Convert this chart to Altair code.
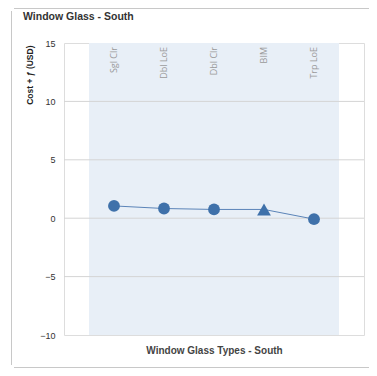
import altair as alt
import pandas as pd

categories = ["Sgl Clr", "Dbl LoE", "Dbl Clr", "BIM", "Trp LoE"]
values = [1.05, 0.83, 0.75, 0.75, -0.08]
shapes = ["circle", "circle", "circle", "triangle-up", "circle"]
grid_values = [-5, 0, 5, 10]
y_ticks = [-10, -5, 0, 5, 10, 15]
chart_title = ["Window Glass - South"]

FONT = "Liberation Sans, Arial, sans-serif"
BLUE = "#3f71aa"

df = pd.DataFrame({
    "cat": categories,
    "pos": list(range(1, len(categories) + 1)),
    "val": values,
    "shape": shapes,
})
band = pd.DataFrame({"x0": [0.5], "x1": [len(categories) + 0.5]})
grid = pd.DataFrame({"g": grid_values})
tdf = pd.DataFrame({"t": chart_title})

xscale = alt.Scale(domain=[0, len(categories) + 1], nice=False, zero=False)
yscale = alt.Scale(domain=[-10, 15], nice=False, zero=False)

edge = dict(color="#c8c8c8", strokeWidth=1, clip=False)
frame_left = alt.Chart(tdf).mark_rule(**edge).encode(
    x=alt.value(-52.5), y=alt.value(-32), y2=alt.value(322))
frame_top = alt.Chart(tdf).mark_rule(**edge).encode(
    x=alt.value(-50), x2=alt.value(330), y=alt.value(-34.5))
frame_bottom = alt.Chart(tdf).mark_rule(**edge).encode(
    x=alt.value(-50), x2=alt.value(330), y=alt.value(324.5))

title_layer = alt.Chart(tdf).mark_text(
    align="left", baseline="middle", font=FONT, fontSize=10.5, fontWeight="bold", color="#333"
).encode(x=alt.value(-41), y=alt.value(-26), text="t:N")

band_layer = alt.Chart(band).mark_rect(color="#e8eff7").encode(
    x=alt.X("x0:Q", scale=xscale,
            axis=alt.Axis(title="Window Glass Types - South", labels=False, ticks=False,
                          grid=False, domain=False, titleFont=FONT, titleFontSize=10,
                          titleFontWeight="bold", titleColor="#444", titlePadding=10,
                          zindex=1)),
    x2="x1:Q",
    y=alt.value(0), y2=alt.value(292),
)

grid_layer = alt.Chart(grid).mark_rule(color="#d4d4d4", strokeWidth=1).encode(
    y=alt.Y("g:Q", scale=yscale)
)

line = alt.Chart(df).mark_line(color="#5b84b8", strokeWidth=1).encode(
    x=alt.X("pos:Q", scale=xscale),
    y=alt.Y("val:Q", scale=yscale,
            axis=alt.Axis(values=y_ticks, title="Cost + ƒ (USD)", grid=False, ticks=False,
                          domain=False, labelFont=FONT,
                          labelFontSize=9, labelColor="#333", labelPadding=9,
                          titleFont=FONT, titleFontSize=8.5, titleFontWeight="bold",
                          titleColor="#222", titleAnchor="end", titlePadding=5,
                          titleY=2, zindex=1)),
)

pts = alt.Chart(df).mark_point(filled=True, opacity=1, color=BLUE).encode(
    x=alt.X("pos:Q", scale=xscale),
    y=alt.Y("val:Q", scale=yscale),
    shape=alt.Shape("shape:N", scale=None, legend=None),
    size=alt.condition(alt.datum.shape == "triangle-up", alt.value(190), alt.value(140)),
)

labels = alt.Chart(df).mark_text(
    angle=270, align="right", baseline="middle", color="#9a9a9a",
    font="Open Sans, sans-serif", fontSize=9, dx=-4
).encode(
    x=alt.X("pos:Q", scale=xscale),
    y=alt.value(0),
    text="cat:N",
)

chart = alt.layer(frame_left, frame_top, frame_bottom, title_layer, band_layer,
                  grid_layer, line, pts, labels).properties(
    width=300, height=292,
    padding={"left": 56, "top": 35, "right": 5, "bottom": 33},
    autosize=alt.AutoSizeParams(type="none"),
).configure_view(stroke="#8a8a8a", strokeWidth=1.5).configure(background="white")

chart.save("out.html", embed_options={"renderer": "svg", "actions": False})
